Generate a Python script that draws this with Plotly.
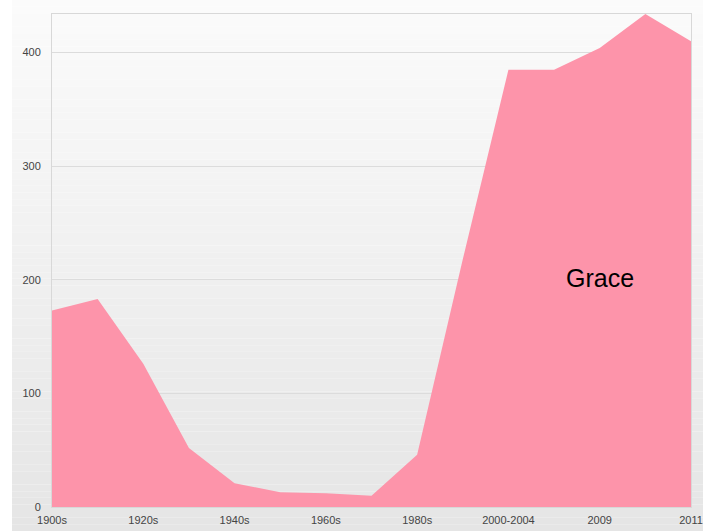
import plotly.graph_objects as go

categories = ["1900s", "1910s", "1920s", "1930s", "1940s", "1950s", "1960s", "1970s",
              "1980s", "1990s", "2000-2004", "2005-2008", "2009", "2010", "2011"]
values = [173, 183, 126, 52, 21, 13, 12, 10, 46, 218, 385, 385, 404, 434, 410]
tick_labels = ["1900s", "1920s", "1940s", "1960s", "1980s", "2000-2004", "2009", "2011"]
series_name = "Grace"
label_category = "2009"
label_value = 202

W, H = 716, 531
L, R, T, B = 52, 25, 14, 24
pw, ph = W - L - R, H - T - B

fig = go.Figure()
fig.add_trace(go.Scatter(
    x=categories, y=values, mode="lines", fill="tozeroy",
    line=dict(width=0, color="#fd94aa"), fillcolor="#fd94aa",
    name=series_name, showlegend=False, hoverinfo="x+y"))

# gradient background made of thin bands
shapes = []
n = 80
x0 = (12 - L) / pw
x1 = (703 - L) / pw
for i in range(n):
    ytop_px = i * H / n
    ybot_px = (i + 1) * H / n
    t = (i + 0.5) / n
    c = round(251 - (251 - 229) * t)
    shapes.append(dict(type="rect", xref="paper", yref="paper", layer="below",
                       x0=x0, x1=x1,
                       y0=(H - B - ybot_px) / ph, y1=(H - B - ytop_px) / ph,
                       line=dict(width=0), fillcolor=f"rgb({c},{c},{c})"))

fig.update_layout(
    width=W, height=H, margin=dict(l=L, r=R, t=T, b=B, autoexpand=False),
    paper_bgcolor="white", plot_bgcolor="rgba(0,0,0,0)",
    shapes=shapes,
    font=dict(family="Liberation Sans, Arial, sans-serif", size=11, color="#444"),
    xaxis=dict(type="category", range=[0, 14], tickvals=tick_labels,
               showgrid=False, showline=True, linecolor="#d8d8d8", mirror=True,
               ticks="", zeroline=False, ticklabelstandoff=3, automargin=False,
               ticklabeloverflow="allow"),
    yaxis=dict(range=[0, 434], tickvals=[0, 100, 200, 300, 400],
               showgrid=True, gridcolor="#dcdcdc", gridwidth=1,
               showline=True, linecolor="#d8d8d8", mirror=True,
               ticks="", zeroline=False, ticklabelstandoff=8, automargin=False),
    annotations=[dict(x=categories.index(label_category), y=label_value, text=series_name,
                      showarrow=False, xref="x", yref="y",
                      font=dict(family="Liberation Sans, Arial, sans-serif", size=25, color="#000"))],
)

fig.write_html("out.html", config={"displayModeBar": False},
               post_script="document.body.style.margin='0';document.body.style.padding='0';")
